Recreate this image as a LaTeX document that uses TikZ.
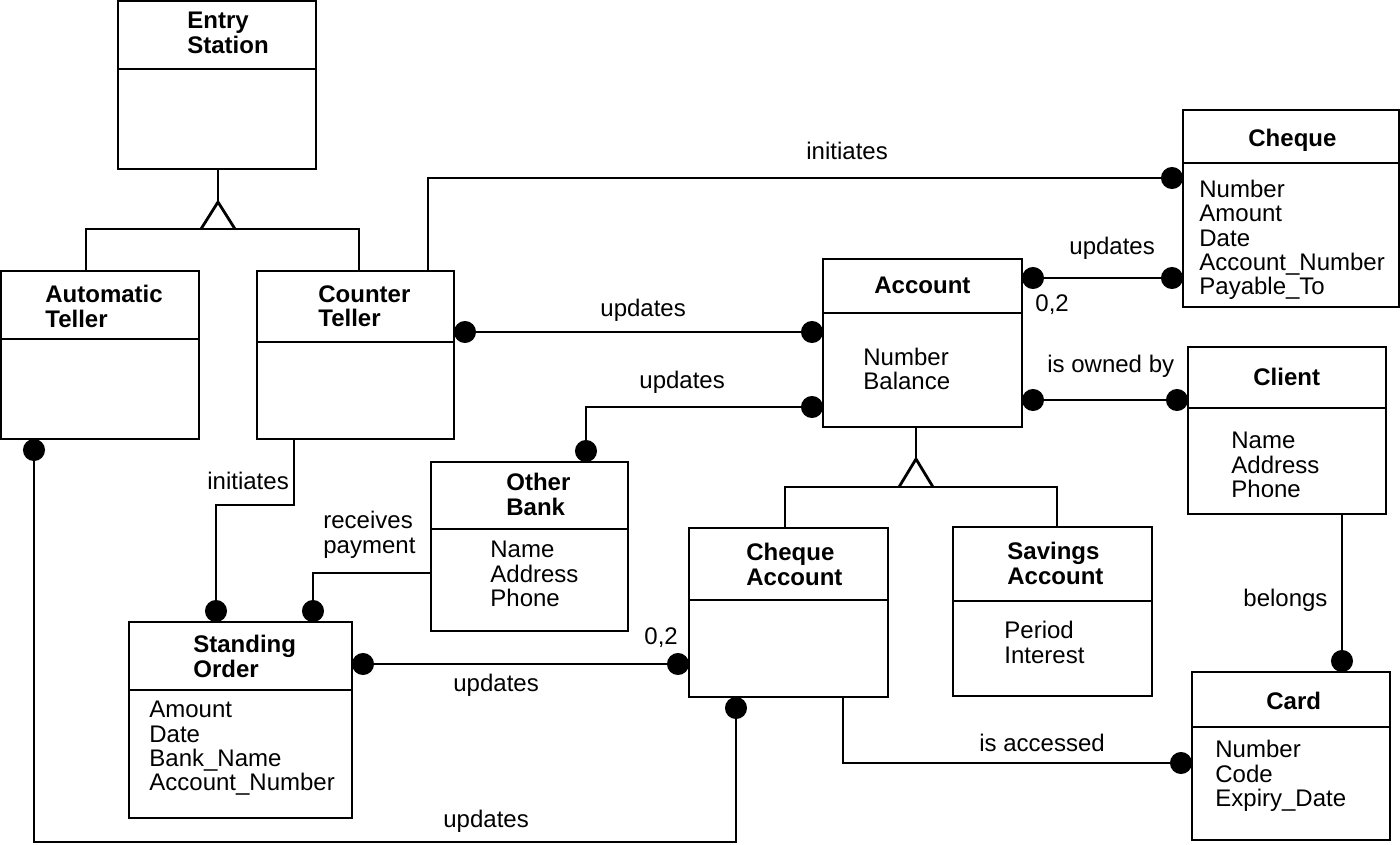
\documentclass[tikz,border=0pt]{standalone}
\usepackage{fontspec}
\setmainfont{Liberation Sans}
\usetikzlibrary{arrows.meta}
\usetikzlibrary{calc}

\tikzset{
	classbox/.style={draw, rectangle, inner sep=0pt, outer sep=0pt, anchor=north west},
	classname/.style={font=\bfseries\fontsize{24}{24.5}\selectfont, align=left, inner sep=0pt, anchor=north west},
	attrs/.style={font=\fontsize{24}{24.2}\selectfont, align=left, inner sep=0pt, anchor=north west},
	assoclabel/.style={font=\fontsize{24}{24.2}\selectfont, inner sep=0pt, anchor=base west},
	onedot/.style={-{Circle[length=22pt]}},
	twodot/.style={{Circle[length=22pt]}-{Circle[length=22pt]}}
}

\begin{document}
\begin{tikzpicture}[x=1pt,y=-1pt,line width=2.8pt]
		\useasboundingbox (0,0) rectangle (1400,844);

		%class boxes
		\node[classbox, minimum width=198, minimum height=168] (es) at (118,1) {};
		\node[classbox, minimum width=198, minimum height=168] (at) at (1,271) {};
		\node[classbox, minimum width=197, minimum height=168] (ct) at (257,271) {};
		\node[classbox, minimum width=199, minimum height=168] (acc) at (823,259) {};
		\node[classbox, minimum width=216, minimum height=197] (cq) at (1183,110) {};
		\node[classbox, minimum width=198, minimum height=167] (cl) at (1188,347) {};
		\node[classbox, minimum width=197, minimum height=169] (ob) at (431,462) {};
		\node[classbox, minimum width=199, minimum height=169] (cha) at (689,528) {};
		\node[classbox, minimum width=199, minimum height=169] (sa) at (953,527) {};
		\node[classbox, minimum width=223, minimum height=196] (so) at (129,622) {};
		\node[classbox, minimum width=198, minimum height=168] (card) at (1192,672) {};

		%dividers
		\draw (es.west |- 0,69) -- (es.east |- 0,69);
		\draw (at.west |- 0,339) -- (at.east |- 0,339);
		\draw (ct.west |- 0,342) -- (ct.east |- 0,342);
		\draw (acc.west |- 0,313) -- (acc.east |- 0,313);
		\draw (cq.west |- 0,163) -- (cq.east |- 0,163);
		\draw (cl.west |- 0,408) -- (cl.east |- 0,408);
		\draw (ob.west |- 0,529) -- (ob.east |- 0,529);
		\draw (cha.west |- 0,600) -- (cha.east |- 0,600);
		\draw (sa.west |- 0,601) -- (sa.east |- 0,601);
		\draw (so.west |- 0,690) -- (so.east |- 0,690);
		\draw (card.west |- 0,727) -- (card.east |- 0,727);

		%names & attributes
		\node[classname] (es-n) at (186,11) {Entry\\Station};
		\node[classname] (at-n) at (44,284) {Automatic\\Teller};
		\node[classname] (ct-n) at (317,284) {Counter\\Teller};
		\node[classname] (acc-n) at (873,276) {Account};
		\node[attrs] (acc-a) at (862,347) {Number\\Balance};
		\node[classname] (cq-n) at (1247,128) {Cheque};
		\node[attrs] (cq-a) at (1198,179) {Number\\Amount\\Date\\Account\_Number\\Payable\_To};
		\node[classname] (cl-n) at (1252,367) {Client};
		\node[attrs] (cl-a) at (1230,431) {Name\\Address\\Phone};
		\node[classname] (ob-n) at (505,472) {Other\\Bank};
		\node[attrs] (ob-a) at (489,540) {Name\\Address\\Phone};
		\node[classname] (cha-n) at (745,542) {Cheque\\Account};
		\node[classname] (sa-n) at (1006,541) {Savings\\Account};
		\node[attrs] (sa-a) at (1003,620) {Period\\Interest};
		\node[classname] (so-n) at (192,634) {Standing\\Order};
		\node[attrs] (so-a) at (148,700) {Amount\\Date\\Bank\_Name\\Account\_Number};
		\node[classname] (card-n) at (1265,691) {Card};
		\node[attrs] (card-a) at (1214,739) {Number\\Code\\Expiry\_Date};

		%generalisations
		\coordinate (esgen) at (218,229);
		\draw (es.south -| esgen) -- ([yshift=27pt]esgen);
		\draw (esgen) ++(-17,0) -- ++(17,-27) -- ++(17,27);
		\draw (at.north -| 86,0) |- (esgen) -| (ct.north -| 359,0);
		\coordinate (accgen) at (916,487);
		\draw (acc.south -| accgen) -- ([yshift=28pt]accgen);
		\draw (accgen) ++(-17,0) -- ++(17,-28) -- ++(17,28);
		\draw (cha.north -| 785,0) |- (accgen) -| (sa.north -| 1057,0);

		%associations
		\draw[onedot] (ct.north -| 428,0) |- (cq.west |- 0,178);
		\draw[twodot] (ct.east |- 0,332) -- (acc.west |- 0,332);
		\draw[twodot] (acc.west |- 0,407) -| (ob.north -| 586,0);
		\draw[twodot] (acc.east |- 0,278) -- (cq.west |- 0,278);
		\draw[twodot] (acc.east |- 0,400) -- (cl.west |- 0,400);
		\draw[onedot] (cl.south -| 1342,0) -- (card.north -| 1342,0);
		\draw[onedot] (cha.south -| 843,0) |- (card.west |- 0,763);
		\draw[twodot] (so.east |- 0,664) -- (cha.west |- 0,664);
		\draw[twodot] (at.south -| 34,0) -- (34,842) -| (cha.south -| 736,0);
		\draw[onedot] (ct.south -| 294,0) -- ++(0,66) -| (so.north -| 216,0);
		\draw[onedot] (ob.west |- 0,573) -| (so.north -| 313,0);

		%association labels
		\node[assoclabel] (l-init1) at (805,159) {initiates};
		\node[assoclabel] (l-upd1) at (599,316) {updates};
		\node[assoclabel] (l-upd2) at (638,388) {updates};
		\node[assoclabel] (l-upd3) at (1068,254) {updates};
		\node[assoclabel] (l-mul1) at (1034,311) {0,2};
		\node[assoclabel] (l-own) at (1046,372) {is owned by};
		\node[assoclabel] (l-bel) at (1242,606) {belongs};
		\node[assoclabel] (l-acc) at (978,751) {is accessed};
		\node[assoclabel] (l-upd4) at (452,691) {updates};
		\node[assoclabel] (l-mul2) at (643,644) {0,2};
		\node[assoclabel] (l-upd5) at (442,827) {updates};
		\node[assoclabel] (l-init2) at (206,489) {initiates};
		\node[attrs] (l-recv) at (322,510) {receives\\payment};
\end{tikzpicture}
\end{document}
